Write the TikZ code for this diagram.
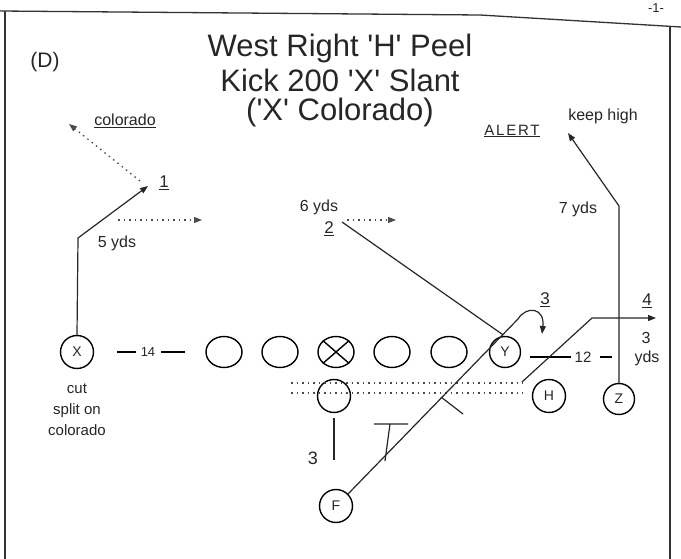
\documentclass[tikz,border=0pt]{standalone}
\usepackage{fontspec}
\setmainfont{Liberation Sans}
\usetikzlibrary{arrows.meta,shapes.geometric}
\newcommand{\sq}{\textquotesingle}
\tikzset{
  every node/.style={inner sep=0pt, text=black!85},
  player/.style={draw, circle, line width=1.4pt, minimum size=33pt, font=\fontsize{14}{14}\selectfont},
  lineman/.style={draw, ellipse, line width=1.4pt, minimum width=36pt, minimum height=31pt},
  route/.style={line width=1.2pt, draw=black!85},
  dotroute/.style={line width=1.3pt, draw=black!70, dash pattern=on 1.5pt off 4pt},
  tip/.style={-{Triangle[length=8pt,width=6pt]}},
  small/.style={font=\fontsize{16}{16}\selectfont},
  num/.style={font=\fontsize{17}{17}\selectfont},
  title/.style={font=\fontsize{31}{31}\selectfont},
}
\begin{document}
\begin{tikzpicture}[x=1pt,y=-1pt]
\useasboundingbox (0,0) rectangle (681,559);
% frame
\draw[line width=1.3pt, black!80] (0,11) -- (480,15) -- (681,27);
\draw[line width=1.3pt, black!80] (5,11) -- (5,559);
\draw[line width=1.3pt, black!80] (670,27) -- (670,559);
\node[font=\fontsize{13}{13}\selectfont] (pg) at (656,8) {-1-};
% titles
\node[title] (t1) at (340,48) {West Right \sq H\sq\ Peel};
\node[title] (t2) at (340,80) {Kick 200 \sq X\sq\ Slant};
\node[title] (t3) at (340,112) {(\sq X\sq\ Colorado)};
\node[font=\fontsize{21}{21}\selectfont] (d) at (45,62) {(D)};
% players
\node[player] (X) at (77,352) {X};
\node[lineman] (o1) at (224,352) {};
\node[lineman] (o2) at (280,352) {};
\node[lineman] (c) at (336,352) {};
\draw[line width=1.4pt] (c.north west) -- (c.south east) (c.north east) -- (c.south west);
\node[lineman] (o4) at (392,352) {};
\node[lineman] (o5) at (449,352) {};
\node[player, minimum size=31pt] (Y) at (505,352) {Y};
\node[player] (Q) at (334,396) {};
\node[player] (H) at (549,396) {H};
\node[player, minimum size=31pt] (Z) at (619,399) {Z};
\node[player] (F) at (336,506) {F};
% spacing labels
\node[font=\fontsize{13}{13}\selectfont] (n14) at (148,352) {14};
\draw[line width=1.2pt] (117,352) -- (136,352) (161,352) -- (185,352);
\node[font=\fontsize{15}{15}\selectfont] (n12) at (583,357) {12};
\draw[line width=1.2pt] (530,357) -- (571,357) (600,357) -- (612,357);
\node[small] (three) at (646,338) {3};
\node[small] (yds) at (647,358) {yds};
% X route
\coordinate (xb) at (78,238);
\coordinate (xe) at (148,186);
\draw[route, tip] (X.north) -- (xb) -- (xe);
\node[num] (one) at (164,183) {\underline{1}};
\coordinate (cs) at (140,181);
\coordinate (ce) at (69,124);
\draw[dotroute, tip] (cs) -- (ce);
\node[small] (colo) at (125,121) {\underline{colorado}};
\node[small] (fy) at (117,243) {5 yds};
\coordinate (d1s) at (118,220);
\coordinate (d1e) at (202,220);
\draw[dotroute, tip] (d1s) -- (d1e);
\node[font=\fontsize{15}{21}\selectfont, align=center] (cut) at (77,410) {cut\\split on\\colorado};
% Y route
\coordinate (y2) at (342,222);
\draw[route] (Y.north) ++(-2,-1) -- (y2);
\coordinate (d2e) at (396,220);
\draw[dotroute, tip] (347,220) -- (d2e);
\node[small] (sy) at (319,207) {6 yds};
\node[num] (two) at (329,229) {\underline{2}};
% Z route
\coordinate (zb) at (619,206);
\coordinate (ze) at (568,133);
\draw[route, tip] (Z.north) -- (zb) -- (ze);
\node[small] (sev) at (578,209) {7 yds};
\node[small] (kh) at (603,116) {keep high};
\node[font=\fontsize{15}{15}\selectfont\addfontfeature{LetterSpace=12}] (al) at (512,131) {\underline{ALERT}};
% H route and motion
\draw[dotroute] (291,383) -- (523,383);
\draw[dotroute] (291,393) -- (523,393);
\coordinate (hs) at (522,382);
\coordinate (hb) at (592,318);
\coordinate (he) at (656,318);
\draw[route, tip] (hs) -- (hb) -- (he);
\node[num] (four) at (647,301) {\underline{4}};
% F route
\coordinate (fb) at (518,319);
\coordinate (fe) at (542,334);
\draw[route, tip] (F.north east) -- (fb) .. controls (527,305) and (545,308) .. (fe);
\node[num] (threeF) at (545,300) {\underline{3}};
\draw[route] (385,461) -- (390,424) (374,424) -- (408,424);
\draw[route] (441,397) -- (463,414);
% QB
\draw[route] (Q.south) ++(0,5) -- (334,460);
\node[font=\fontsize{18}{18}\selectfont] (qb3) at (313,458) {3};
\end{tikzpicture}
\end{document}
